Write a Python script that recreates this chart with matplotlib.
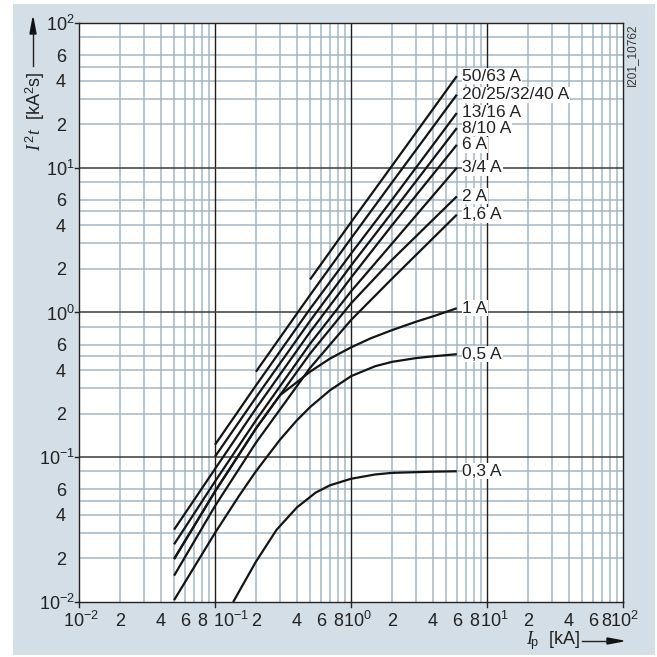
import numpy as np
import matplotlib.pyplot as plt
from matplotlib.transforms import ScaledTranslation

plt.rcParams['font.family'] = ['Liberation Sans', 'DejaVu Sans']
plt.rcParams['mathtext.fontset'] = 'custom'
plt.rcParams['mathtext.rm'] = 'Liberation Sans'
plt.rcParams['mathtext.it'] = 'Liberation Serif:italic'

# curves: (Ip [kA], I2t [kA2s])
labels = ['50/63 A', '20/25/32/40 A', '13/16 A', '8/10 A', '6 A', '3/4 A',
          '2 A', '1,6 A', '1 A', '0,5 A', '0,3 A']
ip_50 = [0.5, 1, 2, 6]
i2t_50 = [1.69, 4.2, 10.3, 43]
ip_20 = [0.2, 0.5, 1, 2, 6]
i2t_20 = [0.39, 1.32, 3.25, 7.9, 32]
ip_13 = [0.1, 0.2, 0.5, 1, 2, 6]
i2t_13 = [0.122, 0.313, 1.06, 2.55, 6.0, 23.9]
ip_8 = [0.1, 0.2, 0.5, 1, 2, 6]
i2t_8 = [0.101, 0.259, 0.875, 2.11, 4.9, 18.8]
ip_6 = [0.05, 0.1, 0.2, 0.5, 1, 2, 6]
i2t_6 = [0.0316, 0.083, 0.217, 0.733, 1.74, 4.0, 14.4]
ip_3 = [0.05, 0.1, 0.2, 0.5, 1, 2, 6]
i2t_3 = [0.025, 0.068, 0.18, 0.608, 1.40, 2.99, 10]
ip_2 = [0.05, 0.1, 0.2, 0.5, 1, 2, 6]
i2t_2 = [0.0198, 0.058, 0.158, 0.52, 1.156, 2.31, 6.34]
ip_16 = [0.05, 0.1, 0.2, 0.5, 1, 2, 6]
i2t_16 = [0.0152, 0.046, 0.126, 0.414, 0.887, 1.71, 4.74]
ip_1 = [0.05, 0.1, 0.2, 0.3, 0.4, 0.5, 0.7, 1, 1.4, 2, 3, 4, 6]
i2t_1 = [0.0198, 0.058, 0.158, 0.268, 0.33, 0.39, 0.48, 0.574, 0.664, 0.755, 0.863, 0.94, 1.07]
ip_05 = [0.05, 0.1, 0.15, 0.2, 0.3, 0.4, 0.5, 0.7, 1, 1.5, 2, 3, 4, 6]
i2t_05 = [0.0103, 0.030, 0.054, 0.080, 0.132, 0.180, 0.222, 0.29, 0.363, 0.425, 0.456,
          0.484, 0.498, 0.515]
ip_03 = [0.136, 0.2, 0.284, 0.4, 0.55, 0.7, 1, 1.5, 2, 4, 6]
i2t_03 = [0.01, 0.019, 0.0316, 0.045, 0.057, 0.064, 0.071, 0.076, 0.078, 0.0795, 0.080]

curves = [(ip_50, i2t_50), (ip_20, i2t_20), (ip_13, i2t_13), (ip_8, i2t_8),
          (ip_6, i2t_6), (ip_3, i2t_3), (ip_2, i2t_2), (ip_16, i2t_16),
          (ip_1, i2t_1), (ip_05, i2t_05), (ip_03, i2t_03)]

# tick labels
xticks = [1e-2, 2e-2, 4e-2, 6e-2, 8e-2, 1e-1, 2e-1, 4e-1, 6e-1, 8e-1, 1e0,
          2, 4, 6, 8, 10, 20, 40, 60, 80, 100]
yticks = [1e-2, 2e-2, 4e-2, 6e-2, 1e-1, 2e-1, 4e-1, 6e-1, 1e0,
          2, 4, 6, 10, 20, 40, 60, 100]
# left shift (px) of the decade labels on x, as placed in the original
xdec_shift = {-2: -16, -1: -2, 0: -8, 1: -7, 2: -13}

fig = plt.figure(figsize=(6.57, 6.57), dpi=100)
fig.patch.set_facecolor('white')
fig.patches.append(plt.Rectangle((13 / 657, 2 / 657), 642 / 657, 651 / 657,
                                 transform=fig.transFigure, facecolor='#d3dee6',
                                 edgecolor='none', zorder=-10))

ax = fig.add_axes([79 / 657, 1 - 602 / 657, 544 / 657, 579 / 657])
ax.set_facecolor('white')
ax.set_xscale('log')
ax.set_yscale('log')
ax.set_xlim(1e-2, 1e2)
ax.set_ylim(1e-2, 1e2)
ax.set_xticks([])
ax.set_yticks([])
ax.minorticks_off()

minor_col = '#a3b6c5'
xminor = [m * 10.0 ** e for e in range(-2, 2) for m in range(2, 10)]
yminor = [m * 10.0 ** e for e in range(-2, 2) for m in (2, 3, 4, 5, 6, 8)]
for v in xminor:
    ax.axvline(v, color=minor_col, lw=1.1, zorder=1)
for v in yminor:
    ax.axhline(v, color=minor_col, lw=1.1, zorder=1)
for v in [1e-1, 1e0, 1e1]:
    ax.axvline(v, color='#1e1e1e', lw=1.0, zorder=2)
    ax.axhline(v, color='#3a3a3a', lw=1.1, zorder=2)

for s in ax.spines.values():
    s.set_color('#222222')
    s.set_linewidth(1.0)

for v in [1e-2, 1e-1, 1e0, 1e1, 1e2]:
    ax.plot([v, v], [1e-2, 10 ** -2.035], color='#222222', lw=1.0, clip_on=False, zorder=5)
    ax.plot([1e-2, 10 ** -2.03], [v, v], color='#222222', lw=1.0, clip_on=False, zorder=5)

px = 1 / 100.0
for v in xticks:
    e = int(np.floor(np.log10(v) + 1e-9))
    m = int(round(v / 10.0 ** e))
    if m == 1:
        txt = r'$\mathregular{10^{%d}}$' % e
        dx = xdec_shift[e]
        ha = 'left'
    else:
        txt = str(m)
        dx = -4 if v == 80 else 0
        ha = 'center'
    tr = ax.get_xaxis_transform() + ScaledTranslation(dx * px, -19 * px, fig.dpi_scale_trans)
    ax.text(v, 0, txt, transform=tr, ha=ha, va='center', fontsize=13, color='#222222')

for v in yticks:
    e = int(np.floor(np.log10(v) + 1e-9))
    m = int(round(v / 10.0 ** e))
    if m == 1:
        txt = r'$\mathregular{10^{%d}}$' % e
        dx = -4
    else:
        txt = str(m)
        dx = -13
    tr = ax.get_yaxis_transform() + ScaledTranslation(dx * px, 0, fig.dpi_scale_trans)
    ax.text(0, v, txt, transform=tr, ha='right', va='center_baseline', fontsize=13,
            color='#222222')

# curves and labels
for (xs, ys), lab in zip(curves, labels):
    ax.plot(xs, ys, color='#141414', lw=1.6, solid_capstyle='butt', zorder=4)
    ax.annotate(lab, (xs[-1], ys[-1]), xytext=(4, 0), textcoords='offset points',
                fontsize=12.5, color='#222222', va='center', ha='left', zorder=6,
                bbox=dict(boxstyle='square,pad=0.03', fc='white', ec='none'))

# axis titles with arrows
fig.text(35 / 657, 1 - 111 / 657, r'$I^{\,2}t$  [kA$^{\mathregular{2}}$s]', rotation=90,
         fontsize=13, color='#222222', ha='center', va='center')
fig.add_artist(plt.Line2D([33 / 657, 33 / 657], [1 - 66 / 657, 1 - 32 / 657],
                          transform=fig.transFigure, color='#222222', lw=1.0))
fig.patches.append(plt.Polygon([[30 / 657, 1 - 34 / 657], [36 / 657, 1 - 34 / 657],
                                [33 / 657, 1 - 18 / 657]], closed=True,
                               transform=fig.transFigure, color='#111111'))

fig.text(580 / 657, 1 - 641 / 657, r'$I_{\mathregular{\!p}}$  [kA]', fontsize=13,
         color='#222222', ha='right', va='center')
fig.add_artist(plt.Line2D([582 / 657, 609 / 657], [1 - 641 / 657, 1 - 641 / 657],
                          transform=fig.transFigure, color='#222222', lw=1.0))
fig.patches.append(plt.Polygon([[607 / 657, 1 - 638 / 657], [607 / 657, 1 - 644 / 657],
                                [623 / 657, 1 - 641 / 657]], closed=True,
                               transform=fig.transFigure, color='#111111'))

fig.text(632 / 657, 1 - 55 / 657, 'I201_10762', rotation=90, fontsize=8.5,
         color='#333333', ha='center', va='center')

fig.savefig('out.png', dpi=100, facecolor='white')
